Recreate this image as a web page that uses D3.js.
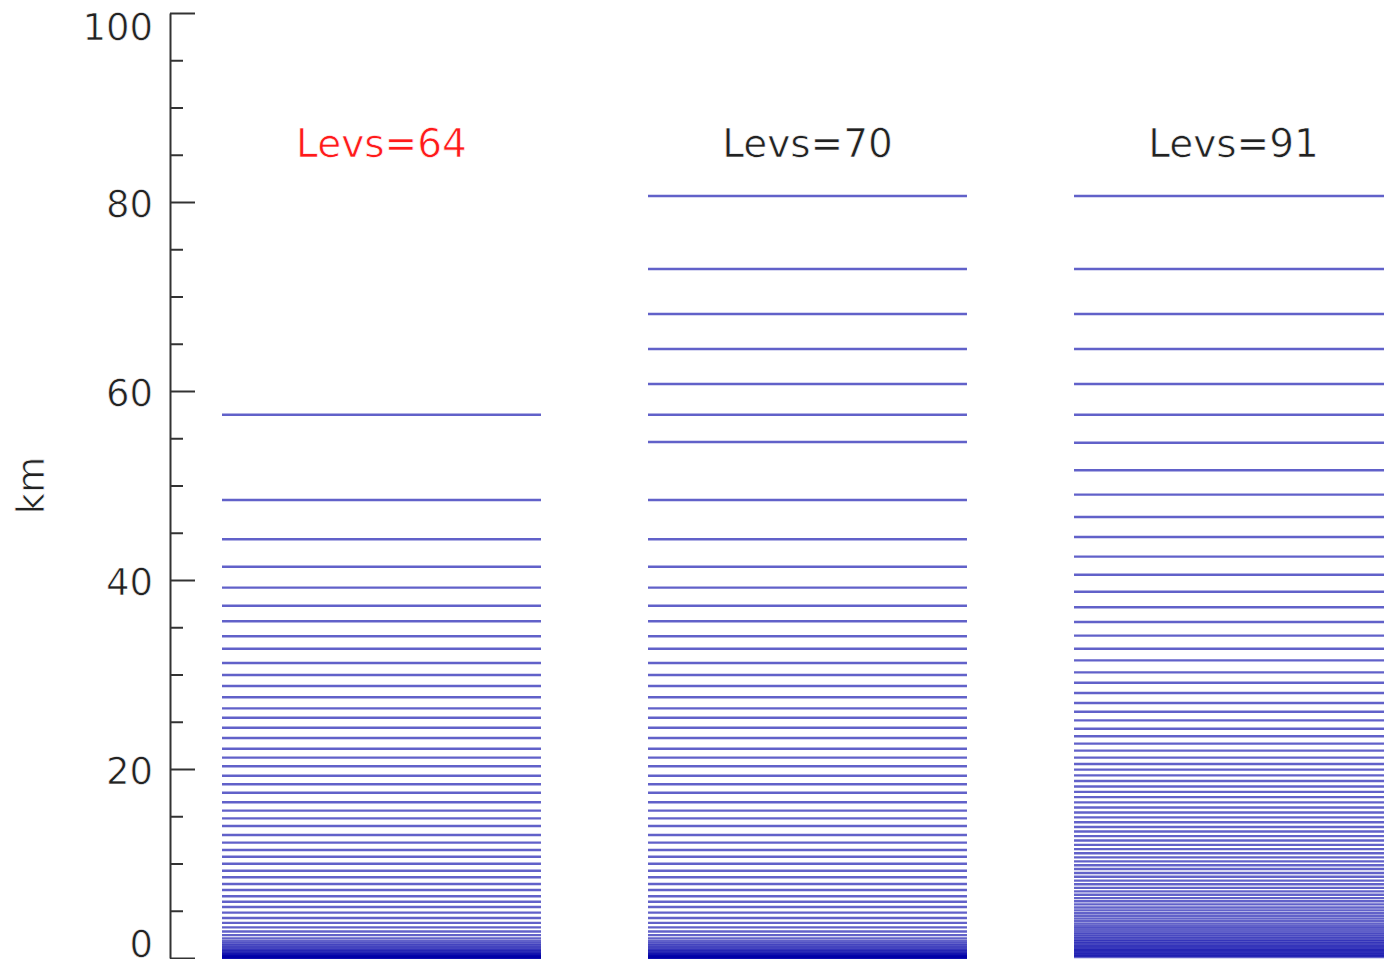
<!DOCTYPE html>
<html>
<head>
<meta charset="utf-8">
<script src="https://cdn.jsdelivr.net/npm/d3@7"></script>
<style>
  html, body { margin: 0; padding: 0; background: #fff; }
  svg { display: block; }
  text { font-family: "DejaVu Sans", "Liberation Sans", sans-serif; }
  /* slim the glyph strokes a little */
  .thin { stroke: #fff; stroke-width: 0.7px; }
</style>
</head>
<body>
<div id="chart"></div>
<script>
// Model level heights (km) for three vertical grids
const gridNames = ["Levs=64", "Levs=70", "Levs=91"];
const titleColors = ["#ff1a1a", "#222222", "#222222"];

const levs64 = [57.49, 48.47, 44.31, 41.41, 39.19, 37.28, 35.63, 34.04, 32.73, 31.22,
  29.95, 28.78, 27.59, 26.42, 25.43, 24.37, 23.28, 22.15, 21.20, 20.29,
  19.29, 18.38, 17.49, 16.48, 15.59, 14.78, 13.97, 13.02, 12.21, 11.43,
  10.72, 9.98, 9.24, 8.54, 7.83, 7.20, 6.53, 5.96, 5.40, 4.80,
  4.24, 3.72, 3.24, 2.80, 2.42, 2.08, 1.80, 1.56, 1.35, 1.16,
  0.99, 0.84, 0.71, 0.59, 0.49, 0.40, 0.32, 0.25, 0.19, 0.14,
  0.10, 0.06, 0.03, 0.01];

const levs70 = [80.63, 72.91, 68.15, 64.44, 60.74, 57.49, 54.60, 48.47, 44.31, 41.41,
  39.19, 37.28, 35.63, 34.04, 32.73, 31.22, 29.95, 28.78, 27.59, 26.42,
  25.43, 24.37, 23.28, 22.15, 21.20, 20.29, 19.29, 18.38, 17.49, 16.48,
  15.59, 14.78, 13.97, 13.02, 12.21, 11.43, 10.72, 9.98, 9.24, 8.54,
  7.83, 7.20, 6.53, 5.96, 5.40, 4.80, 4.24, 3.72, 3.24, 2.80,
  2.42, 2.08, 1.80, 1.56, 1.35, 1.16, 0.99, 0.84, 0.71, 0.59,
  0.49, 0.40, 0.32, 0.25, 0.19, 0.14, 0.10, 0.06, 0.03, 0.01];

const levs91 = [80.63, 72.91, 68.15, 64.44, 60.74, 57.49, 54.53, 51.61, 49.03, 46.67,
  44.55, 42.47, 40.56, 38.76, 37.11, 35.56, 34.11, 32.73, 31.50, 30.23,
  29.13, 28.04, 26.98, 26.06, 25.15, 24.26, 23.46, 22.68, 21.94, 21.20,
  20.53, 19.93, 19.33, 18.73, 18.15, 17.58, 17.02, 16.47, 15.93, 15.40,
  14.88, 14.37, 13.87, 13.38, 12.90, 12.43, 11.97, 11.52, 11.08, 10.65,
  10.23, 9.82, 9.42, 9.00, 8.59, 8.19, 7.80, 7.42, 7.05, 6.69,
  6.34, 6.00, 5.67, 5.35, 5.04, 4.74, 4.45, 4.17, 3.90, 3.64,
  3.39, 3.15, 2.92, 2.70, 2.49, 2.29, 2.10, 1.92, 1.75, 1.58,
  1.42, 1.27, 1.12, 0.98, 0.84, 0.71, 0.58, 0.46, 0.34, 0.22,
  0.10];

const majorTicks = [0, 20, 40, 60, 80, 100];
const minorTicks = [5, 10, 15, 25, 30, 35, 45, 50, 55, 65, 70, 75, 85, 90, 95];
const yLabel = "km";

const grids = [levs64, levs70, levs91];

const W = 1384, H = 959;
const svg = d3.select("#chart").append("svg")
  .attr("width", W).attr("height", H);

const y = d3.scaleLinear().domain([0, 100]).range([958, 13]);
const x = d3.scaleBand().domain(gridNames).range([222, 1393])
  .paddingInner(0.2512).paddingOuter(0);

// Level lines
gridNames.forEach((name, i) => {
  svg.append("g")
    .selectAll("line")
    .data(grids[i])
    .join("line")
    .attr("x1", x(name))
    .attr("x2", x(name) + x.bandwidth())
    .attr("y1", d => y(d))
    .attr("y2", d => y(d))
    .attr("stroke", "#0000a8")
    .attr("stroke-opacity", 0.62)
    .attr("stroke-width", 2.4);
});

// Column titles
svg.append("g")
  .selectAll("text")
  .data(gridNames)
  .join("text")
  .attr("class", "thin")
  .attr("x", d => x(d) + x.bandwidth() / 2)
  .attr("y", 157)
  .attr("text-anchor", "middle")
  .attr("font-size", 39)
  .attr("fill", (d, i) => titleColors[i])
  .text(d => d);

// Y axis: major ticks with labels, minor ticks without
const axisX = 170;
const major = svg.append("g")
  .attr("transform", `translate(${axisX},0)`)
  .call(d3.axisLeft(y).tickValues(majorTicks).tickSizeInner(-25).tickSizeOuter(0).tickPadding(17));
major.select(".domain").attr("stroke", "#333").attr("stroke-width", 2);
major.selectAll(".tick line").attr("stroke", "#333").attr("stroke-width", 2);
major.selectAll(".tick text")
  .attr("class", "thin")
  .attr("font-size", 37)
  .attr("fill", "#222")
  .attr("font-family", "'DejaVu Sans', 'Liberation Sans', sans-serif")
  // end labels are kept inside the frame
  .attr("dy", d => d === 100 ? "0.72em" : d === 0 ? "-0.05em" : "0.40em");

const minor = svg.append("g")
  .attr("transform", `translate(${axisX},0)`)
  .call(d3.axisLeft(y).tickValues(minorTicks).tickSizeInner(-13).tickSizeOuter(0).tickFormat(""));
minor.select(".domain").remove();
minor.selectAll(".tick line").attr("stroke", "#333").attr("stroke-width", 2);

// Axis title
svg.append("text")
  .attr("class", "thin")
  .attr("transform", `translate(44,${y(50)}) rotate(-90)`)
  .attr("text-anchor", "middle")
  .attr("font-size", 37)
  .attr("fill", "#222")
  .text(yLabel);
</script>
</body>
</html>
